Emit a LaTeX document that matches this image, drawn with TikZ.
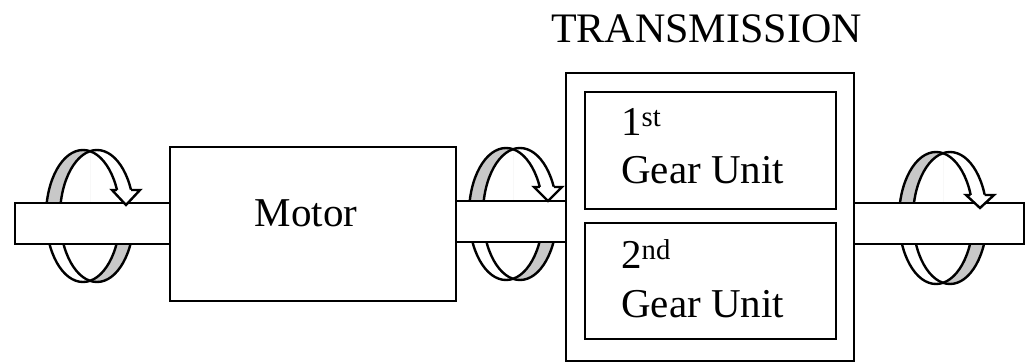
\documentclass[tikz,border=0pt]{standalone}
\usepackage{fontspec}
\setmainfont{Liberation Serif}
\definecolor{ringgray}{RGB}{200,200,200}
\tikzset{
  blk/.style={draw=black, line width=2.6pt, fill=white, inner sep=0pt},
  lbl/.style={font=\fontsize{41}{48}\selectfont, inner sep=0pt, anchor=base west},
  ringline/.style={draw=black, line width=2.4pt},
  shaftbox/.style={draw=black, line width=2.6pt, fill=white},
}
% ring behind the shaft: #1 cx, #2 cy, #3 local y of arrow wings
\newcommand\ringback[3]{%
  \begin{scope}[shift={(#1,#2)}]
    \fill[white] (-7,0) ellipse (37 and 66);
    \fill[white] (7,0) ellipse (37 and 66);
    \begin{scope}
      \clip (-60,-80) rectangle (0,0);
      \fill[ringgray] (-7,0) ellipse (37 and 66);
      \fill[white] (7,0) ellipse (37 and 66);
    \end{scope}
    \begin{scope}
      \clip (0,0) rectangle (60,80);
      \fill[ringgray] (7,0) ellipse (37 and 66);
      \fill[white] (-7,0) ellipse (37 and 66);
    \end{scope}
    \draw[ringline] (-7,0) ellipse (37 and 66);
    \draw[ringline] (7,0) ellipse (37 and 66);
    \fill[white] (15,#3) rectangle (58,0);
  \end{scope}}
% arrow head: #1 cx, #2 cy, #3 wing y, #4 tip y, #5 tip x (local)
\newcommand\ringhead[5]{%
  \begin{scope}[shift={(#1,#2)}]
    \fill[white] ({-7+37*sqrt(1-(#3/66)^2)},#3) -- (#5-14,#3) -- (#5,#4)
      -- (#5+14,#3) -- ({7+37*sqrt(1-(#3/66)^2)},#3) -- cycle;
    \draw[ringline, line join=miter] ({-7+37*sqrt(1-(#3/66)^2)},#3) -- (#5-14,#3)
      -- (#5,#4) -- (#5+14,#3) -- ({7+37*sqrt(1-(#3/66)^2)},#3);
  \end{scope}}
\begin{document}
\begin{tikzpicture}[x=1pt,y=-1pt]
\useasboundingbox (0,0) rectangle (1030,363);
% rings (back parts)
\ringback{90}{216}{-26}
\ringback{513}{214}{-27}
\ringback{943}{218}{-23}
% shafts
\draw[shaftbox] (15,203) rectangle (170,244);
\draw[shaftbox] (456,201) rectangle (566,242);
\draw[shaftbox] (854,203) rectangle (1024,244);
% blocks
\node[blk, minimum width=286pt, minimum height=154pt] (motor) at (313,224) {};
\node[blk, minimum width=288pt, minimum height=288pt] (trans) at (710,217) {};
\node[blk, minimum width=251pt, minimum height=117pt] (gu1) at (710.5,150.5) {};
\node[blk, minimum width=251pt, minimum height=116pt] (gu2) at (710.5,281) {};
% arrow heads
\ringhead{90}{216}{-26}{-11}{36}
\ringhead{513}{214}{-27}{-13}{35}
\ringhead{943}{218}{-23}{-10}{37}
% texts
\node[lbl, anchor=base] (tmotor) at (306,227) {Motor};
\node[lbl] (t1a) at (621,136) {1\textsuperscript{st}};
\node[lbl] (t1b) at (621,184) {Gear Unit};
\node[lbl] (t2a) at (621,269) {2\textsuperscript{nd}};
\node[lbl] (t2b) at (621,317) {Gear Unit};
\node[lbl, anchor=base, font=\fontsize{42}{48}\selectfont] (ttrans) at (706.5,43) {TRANSMISSION};
\end{tikzpicture}
\end{document}
